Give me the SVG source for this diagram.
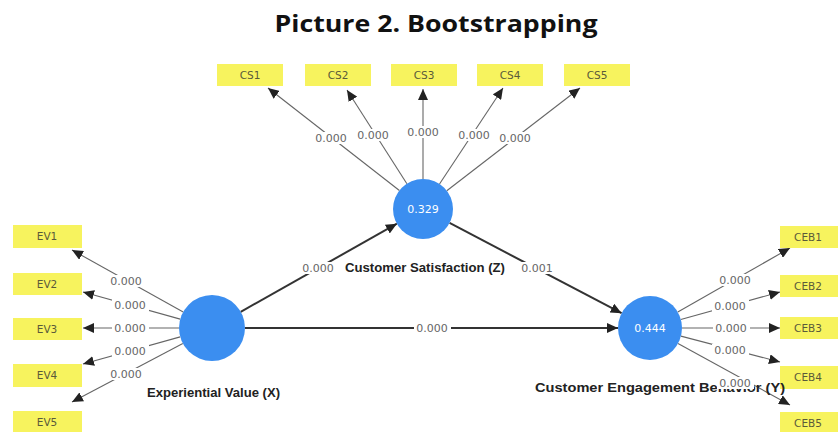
<svg xmlns="http://www.w3.org/2000/svg" width="838" height="432" viewBox="0 0 838 432">
<style>
.title{font-family:"Open Sans","Liberation Sans",sans-serif;font-weight:bold;font-size:24px;fill:#111}
.box{fill:#f7f35e}
.bt{font-family:"DejaVu Sans","Liberation Sans",sans-serif;font-size:10.5px;fill:#5a5a3a;text-anchor:middle;dominant-baseline:central}
.lv{fill:#3b8ef0}
.cv{font-family:"DejaVu Sans","Liberation Sans",sans-serif;font-size:11px;fill:#fff;text-anchor:middle;dominant-baseline:central}
.nl{font-family:"Liberation Sans","DejaVu Sans",sans-serif;font-size:12px;font-weight:600;fill:#222}
.ol{stroke:#666;stroke-width:1.1;fill:none}
.sl{stroke:#333;stroke-width:2;fill:none}
.lb{fill:#fff}
.lt{font-family:"DejaVu Sans","Liberation Sans",sans-serif;font-size:11px;fill:#666;text-anchor:middle;dominant-baseline:central}
</style>
<defs>
<marker id="a" markerUnits="userSpaceOnUse" markerWidth="12" markerHeight="10" refX="11" refY="5" orient="auto">
<path d="M0,0 L11,5 L0,10 Z" fill="#222"/>
</marker>
<marker id="b" markerUnits="userSpaceOnUse" markerWidth="12" markerHeight="10" refX="11" refY="5" orient="auto">
<path d="M0,0 L11,5 L0,10 Z" fill="#222"/>
</marker>
</defs>
<rect width="838" height="432" fill="#fff"/>
<text class="title" x="436" y="32" text-anchor="middle" textLength="323" lengthAdjust="spacingAndGlyphs">Picture 2. Bootstrapping</text>

<g id="connectors">
<line class="ol" x1="399.4" y1="190.5" x2="268" y2="88" marker-end="url(#a)"/>
<line class="ol" x1="406.9" y1="183.7" x2="347" y2="90" marker-end="url(#a)"/>
<line class="ol" x1="423" y1="179" x2="423" y2="89" marker-end="url(#a)"/>
<line class="ol" x1="439.5" y1="184" x2="503" y2="88" marker-end="url(#a)"/>
<line class="ol" x1="446.8" y1="190.7" x2="580" y2="88" marker-end="url(#a)"/>
<line class="ol" x1="183.2" y1="311.9" x2="72" y2="250" marker-end="url(#a)"/>
<line class="ol" x1="180.2" y1="319.1" x2="83" y2="292" marker-end="url(#a)"/>
<line class="ol" x1="179" y1="328" x2="83" y2="328" marker-end="url(#a)"/>
<line class="ol" x1="180.2" y1="336.9" x2="83" y2="364" marker-end="url(#a)"/>
<line class="ol" x1="182.8" y1="343.4" x2="72" y2="402" marker-end="url(#a)"/>
<line class="ol" x1="677.8" y1="312.1" x2="790" y2="248" marker-end="url(#a)"/>
<line class="ol" x1="680.8" y1="319.5" x2="780" y2="292" marker-end="url(#a)"/>
<line class="ol" x1="682" y1="328" x2="780" y2="328" marker-end="url(#a)"/>
<line class="ol" x1="680.9" y1="336.1" x2="780" y2="362" marker-end="url(#a)"/>
<line class="ol" x1="678" y1="343.4" x2="790" y2="405" marker-end="url(#a)"/>
<line class="sl" x1="240.7" y1="311.8" x2="396.9" y2="223.7" marker-end="url(#b)"/>
<line class="sl" x1="449.6" y1="222.9" x2="621.6" y2="313.2" marker-end="url(#b)"/>
<line class="sl" x1="245" y1="328" x2="618" y2="328" marker-end="url(#b)"/>
<g>
<rect class="lb" x="313" y="132" width="37" height="12"/><text class="lt" x="331" y="138">0.000</text>
<rect class="lb" x="355" y="129" width="37" height="12"/><text class="lt" x="373" y="135">0.000</text>
<rect class="lb" x="405" y="126" width="37" height="12"/><text class="lt" x="423" y="132">0.000</text>
<rect class="lb" x="456" y="129" width="37" height="12"/><text class="lt" x="474" y="135">0.000</text>
<rect class="lb" x="497" y="132" width="37" height="12"/><text class="lt" x="515" y="138">0.000</text>
<rect class="lb" x="108" y="275" width="37" height="12"/><text class="lt" x="126" y="281">0.000</text>
<rect class="lb" x="112" y="299" width="37" height="12"/><text class="lt" x="130" y="305">0.000</text>
<rect class="lb" x="112" y="322" width="37" height="12"/><text class="lt" x="130" y="328">0.000</text>
<rect class="lb" x="112" y="345" width="37" height="12"/><text class="lt" x="130" y="351">0.000</text>
<rect class="lb" x="108" y="368" width="37" height="12"/><text class="lt" x="126" y="374">0.000</text>
<rect class="lb" x="717" y="274" width="37" height="12"/><text class="lt" x="735" y="280">0.000</text>
<rect class="lb" x="712" y="300" width="37" height="12"/><text class="lt" x="730" y="306">0.000</text>
<rect class="lb" x="713" y="322" width="37" height="12"/><text class="lt" x="731" y="328">0.000</text>
<rect class="lb" x="712" y="344" width="37" height="12"/><text class="lt" x="730" y="350">0.000</text>
<rect class="lb" x="300" y="262" width="37" height="12"/><text class="lt" x="318" y="268">0.000</text>
<rect class="lb" x="519" y="262" width="37" height="12"/><text class="lt" x="537" y="268">0.001</text>
<rect class="lb" x="414" y="322" width="37" height="12"/><text class="lt" x="432" y="328">0.000</text>
</g>
</g>

<g id="CS1"><rect class="box" x="217" y="64" width="66" height="22"/><text class="bt" x="250" y="75">CS1</text></g>
<g id="CS2"><rect class="box" x="305" y="64" width="66" height="22"/><text class="bt" x="338" y="75">CS2</text></g>
<g id="CS3"><rect class="box" x="391" y="64" width="66" height="22"/><text class="bt" x="424" y="75">CS3</text></g>
<g id="CS4"><rect class="box" x="477" y="64" width="66" height="22"/><text class="bt" x="510" y="75">CS4</text></g>
<g id="CS5"><rect class="box" x="564" y="64" width="66" height="22"/><text class="bt" x="597" y="75">CS5</text></g>

<g id="EV1"><rect class="box" x="13" y="225" width="69" height="23"/><text class="bt" x="47" y="236">EV1</text></g>
<g id="EV2"><rect class="box" x="13" y="273" width="69" height="22"/><text class="bt" x="47" y="284">EV2</text></g>
<g id="EV3"><rect class="box" x="13" y="318" width="69" height="22"/><text class="bt" x="47" y="329">EV3</text></g>
<g id="EV4"><rect class="box" x="13" y="364" width="69" height="23"/><text class="bt" x="47" y="375">EV4</text></g>
<g id="EV5"><rect class="box" x="13" y="411" width="69" height="22"/><text class="bt" x="47" y="422">EV5</text></g>

<g id="CEB1"><rect class="box" x="780" y="226" width="58" height="22"/><text class="bt" x="808" y="237">CEB1</text></g>
<g id="CEB2"><rect class="box" x="780" y="275" width="58" height="22"/><text class="bt" x="808" y="286">CEB2</text></g>
<g id="CEB3"><rect class="box" x="780" y="317" width="58" height="22"/><text class="bt" x="808" y="328">CEB3</text></g>
<g id="CEB4"><rect class="box" x="780" y="366" width="58" height="23"/><text class="bt" x="808" y="377">CEB4</text></g>
<g id="CEB5"><rect class="box" x="780" y="412" width="58" height="22"/><text class="bt" x="808" y="423">CEB5</text></g>

<g id="CS">
<circle class="lv" cx="423" cy="209" r="30"/>
<text class="cv" x="423" y="209">0.329</text>
<text class="nl" x="345" y="272" textLength="160" lengthAdjust="spacingAndGlyphs">Customer Satisfaction (Z)</text>
</g>
<g id="EV">
<circle class="lv" cx="212" cy="328" r="33"/>
<text class="nl" x="147" y="397" textLength="133" lengthAdjust="spacingAndGlyphs">Experiential Value (X)</text>
</g>
<g id="CEB">
<circle class="lv" cx="650" cy="328" r="32"/>
<text class="cv" x="650" y="328">0.444</text>
<text class="nl" x="535" y="392" textLength="250" lengthAdjust="spacingAndGlyphs">Customer Engagement Behavior (Y)</text>
<rect class="lb" x="717" y="377" width="37" height="12"/><text class="lt" x="735" y="383">0.000</text>
</g>
</svg>
